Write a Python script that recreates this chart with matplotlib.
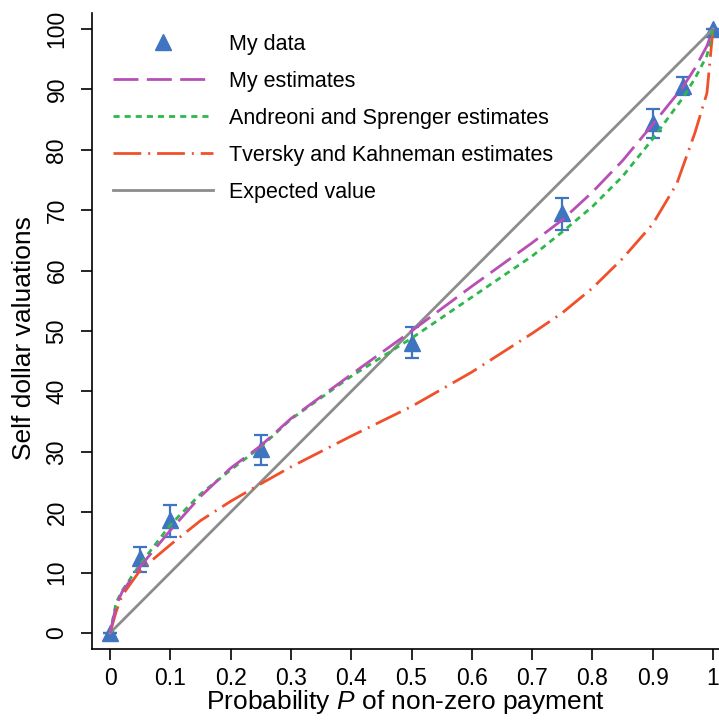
import numpy as np
import matplotlib
matplotlib.use('Agg')
import matplotlib.pyplot as plt
from matplotlib.lines import Line2D

plt.rcParams['font.family'] = ['Liberation Sans', 'DejaVu Sans']
plt.rcParams['mathtext.fontset'] = 'custom'
plt.rcParams['mathtext.it'] = 'Liberation Sans:italic'
plt.rcParams['mathtext.rm'] = 'Liberation Sans'

####Data####
p_data = [0, 0.05, 0.1, 0.25, 0.5, 0.75, 0.9, 0.95, 1.0]
v_data = [0, 12.4, 18.7, 30.4, 48.0, 69.5, 84.5, 90.5, 100]
v_lo = [0, 10.1, 15.9, 27.8, 45.5, 66.8, 82.0, 89.0, 100]
v_hi = [0, 14.2, 21.2, 32.8, 50.7, 72.0, 86.7, 92.0, 100]

p_est = [0, 0.01, 0.02, 0.05, 0.1, 0.15, 0.2, 0.25, 0.3, 0.4, 0.5, 0.6,
         0.7, 0.75, 0.8, 0.85, 0.9, 0.95, 0.97, 0.99, 1.0]
my_est = [0, 4.5, 6.8, 11.0, 17.0, 22.6, 27.3, 31.0, 35.5, 42.8, 50.0, 57.4,
          64.6, 68.4, 73.0, 78.2, 84.2, 90.4, 93.5, 97.2, 100]
as_est = [0, 5.0, 7.0, 11.4, 17.9, 23.0, 27.0, 30.8, 35.4, 42.5, 48.8, 55.6,
          62.4, 66.4, 70.6, 75.6, 81.8, 88.6, 91.8, 95.6, 100]

p_tk = [0, 0.01, 0.02, 0.05, 0.1, 0.15, 0.2, 0.25, 0.3, 0.4, 0.5, 0.6, 0.7,
        0.75, 0.8, 0.85, 0.9, 0.94, 0.97, 0.99, 1.0]
tk_est = [0, 3.5, 6.2, 10.4, 14.6, 18.6, 21.8, 24.7, 27.5, 32.6, 37.5, 43.2,
          49.6, 53.0, 57.1, 62.0, 67.7, 74.4, 82.8, 89.4, 100]

p_ev = [0, 1]
v_ev = [0, 100]

xticks = [0, 0.1, 0.2, 0.3, 0.4, 0.5, 0.6, 0.7, 0.8, 0.9, 1]
xticklabels = ['0', '0.1', '0.2', '0.3', '0.4', '0.5', '0.6', '0.7', '0.8', '0.9', '1']
yticks = [0, 10, 20, 30, 40, 50, 60, 70, 80, 90, 100]

blue = '#3f74c0'

####Figure####
fig = plt.figure(figsize=(7.19, 7.21), dpi=100)
ax = fig.add_axes([0.128, 0.0999, 0.872, 0.882])

yerr = [np.array(v_data) - np.array(v_lo), np.array(v_hi) - np.array(v_data)]
ax.errorbar(p_data, v_data, yerr=yerr, fmt='^', color=blue,
            markersize=12, elinewidth=1.6, capsize=4.7, capthick=1.6, zorder=2)
h_ev, = ax.plot(p_ev, v_ev, color='#8c8c8c', lw=2, zorder=3)
h_tk, = ax.plot(p_tk, tk_est, color='#f0502a', lw=2, dashes=(10, 2.5, 0.7, 2.5), zorder=3)
h_as, = ax.plot(p_est, as_est, color='#2db84b', lw=2, dashes=(2.2, 1.8), zorder=3)
h_my, = ax.plot(p_est, my_est, color='#b84fb5', lw=2, dashes=(9, 3), zorder=3)
h_data = Line2D([], [], marker='^', ls='none', color=blue, markersize=12)

ax.set_xlim(-0.0299, 1.01)
ax.set_ylim(-2.65, 102.65)
ax.set_xticks(xticks)
ax.set_xticklabels(xticklabels)
ax.set_yticks(yticks)
ax.tick_params(axis='both', which='major', labelsize=16.5, length=8, width=1.2, direction='out')
ax.tick_params(axis='y', pad=9)
ax.tick_params(axis='x', pad=5)
for lab in ax.get_yticklabels():
    lab.set_rotation(90)
    lab.set_va('center')
ax.spines['top'].set_visible(False)
ax.spines['right'].set_visible(False)
ax.spines['left'].set_linewidth(1.2)
ax.spines['bottom'].set_linewidth(1.2)

ax.set_xlabel('Probability $P$ of non-zero payment', fontsize=19)
ax.set_ylabel('Self dollar valuations', fontsize=19)
ax.xaxis.set_label_coords(0.5, -0.062)
ax.yaxis.set_label_coords(-0.09, 0.489)

ax.legend([h_data, h_my, h_as, h_tk, h_ev],
          ['My data', 'My estimates', 'Andreoni and Sprenger estimates',
           'Tversky and Kahneman estimates', 'Expected value'],
          loc='upper left', bbox_to_anchor=(113 / 719, 1 - 34 / 721),
          bbox_transform=fig.transFigure, frameon=False, fontsize=15.5,
          handlelength=4.65, handletextpad=0.75, labelspacing=0.74,
          borderpad=0, borderaxespad=0, numpoints=1)

fig.savefig('out.png', dpi=100)
